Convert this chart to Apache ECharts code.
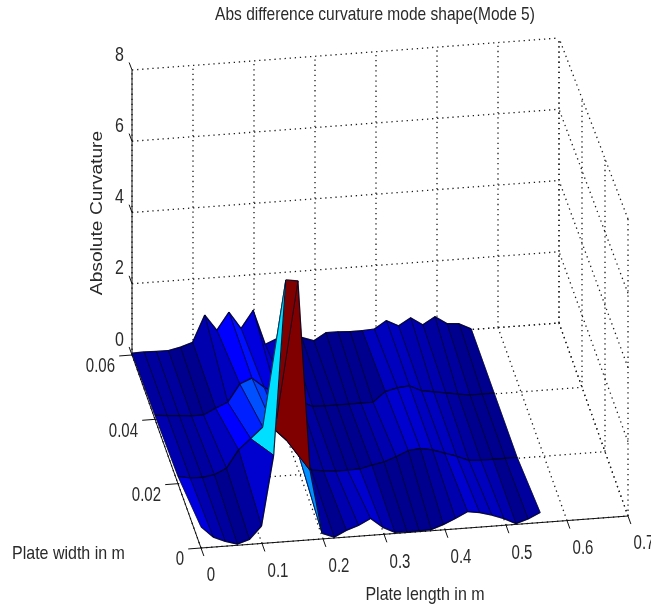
<!DOCTYPE html>
<html><head><meta charset="utf-8">
<style>html,body{margin:0;padding:0;background:#fff}#c{width:651px;height:607px}</style>
<script src="https://cdn.jsdelivr.net/npm/echarts@6/dist/echarts.min.js"></script>
</head><body><div id="c"></div>
<script>
// Plate length grid step and surface heights, one array per plate-width row
const xStep = 0.01986;
const widthRows = [0, 0.02, 0.04, 0.06];
const zRow000 = [0.57,0.27,0.13,0.03,0.13,0.47,2.35,7.05,7.00,1.87,0.15,0.02,0.18,0.29,0.45,0.19,0.03,0.02,0.02,0.03,0.14,0.28,0.44,0.39,0.30,0.18,0.02,0.12,0.27];
const zRow002 = [0.20,0.13,0.12,0.17,0.32,0.80,1.08,1.37,1.27,0.95,0.50,0.10,0.05,0.02,0.02,0.03,0.11,0.17,0.29,0.43,0.46,0.40,0.29,0.18,0.04,0.02,0.02,0.02,0.02];
const zRow004 = [0.11,0.08,0.05,0.02,0.02,0.18,0.32,0.80,0.94,0.66,0.50,0.30,0.20,0.03,0.02,0.02,0.02,0.02,0.02,0.29,0.37,0.40,0.24,0.18,0.13,0.07,0.02,0.02,0.02];
const zRow006 = [0.05,0.06,0.05,0.05,0.12,0.23,0.97,0.52,1.00,0.52,1.00,0.02,0.16,0.20,0.14,0.02,0.22,0.22,0.20,0.20,0.22,0.43,0.26,0.46,0.24,0.44,0.22,0.19,0.02];
const xTicks = [0,0.1,0.2,0.3,0.4,0.5,0.6,0.7];
const yTicks = [0,0.02,0.04,0.06];
const zTicks = [0,2,4,6,8];
const xTickLabels = ['0','0.1','0.2','0.3','0.4','0.5','0.6','0.7'];
const yTickLabels = ['0','0.02','0.04','0.06'];
const zTickLabels = ['0','2','4','6','8'];
const titleText = 'Abs difference curvature mode shape(Mode 5)';
const xName = 'Plate length in m', yName = 'Plate width in m', zName = 'Absolute Curvature';

const zGrid = [zRow000, zRow002, zRow004, zRow006];
const xMax = 0.7, yMax = 0.06, zMax = 8;
const zPeak = Math.max(...zGrid.flat());

// view of the MATLAB box; heights grow slightly toward the viewer
function proj(x, y, z) {
  return [201 + x / xMax * 427 - y / yMax * 69,
          548 - x / xMax * 32 - y / yMax * 193 - z / zMax * 285 * (1 + 0.042 * (1 - y / yMax))];
}
function jet(v0) {
  const v = v0 < 0.1 ? v0 * 0.85 + 0.012 : v0;
  const lvl = Math.min(63, Math.floor(v * 64));
  const t = (lvl + 1) / 64;
  const c = f => Math.round(255 * Math.max(0, Math.min(1, f)));
  return 'rgb(' + c(Math.min(4 * t - 1.5, 4.5 - 4 * t)) + ',' + c(Math.min(4 * t - 0.5, 3.5 - 4 * t)) + ',' + c(Math.min(4 * t + 0.5, 2.5 - 4 * t)) + ')';
}
// dotted wall / floor lines and solid axis lines, as 3-D end points
const dotted = [];
xTicks.forEach(x => { dotted.push([x,yMax,0,x,yMax,zMax]); dotted.push([x,0,0,x,yMax,0]); });
yTicks.forEach(y => { dotted.push([xMax,y,0,xMax,y,zMax]); dotted.push([0,y,0,xMax,y,0]); });
zTicks.forEach(z => { dotted.push([0,yMax,z,xMax,yMax,z]); dotted.push([xMax,0,z,xMax,yMax,z]); });
const tickY = 0.0025;
const solid = [[0,0,0,xMax,0,0],[0,0,0,0,yMax,0],[0,yMax,0,0,yMax,zMax]];
xTicks.forEach(x => solid.push([x,0,0,x,-tickY,0]));
yTicks.forEach(y => solid.push([0,y,0,-0.021,y,0]));
zTicks.forEach(z => solid.push([0,yMax,z,0,yMax+tickY,z]));

// faces, back row first, high x first
const faces = [];
for (let r = widthRows.length - 2; r >= 0; r--)
  for (let i = zRow000.length - 2; i >= 0; i--) faces.push([r, i]);

const segItem = style => (p, api) => {
  const a = api.coord(proj(api.value(0), api.value(1), api.value(2)));
  const b = api.coord(proj(api.value(3), api.value(4), api.value(5)));
  return {type:'line', shape:{x1:a[0],y1:a[1],x2:b[0],y2:b[1]}, style};
};
function faceItem(p, api) {
  const r = api.value(0), i = api.value(1);
  const pt = (rr, ii) => api.coord(proj(ii * xStep, widthRows[rr], zGrid[rr][ii]));
  const A = pt(r, i), B = pt(r, i + 1), C = pt(r + 1, i + 1), D = pt(r + 1, i);
  const col = jet(zGrid[r][i] / zPeak);
  return {type:'group', children:[
    {type:'polygon', shape:{points:[A,B,C,D]}, style:{fill:col, stroke:col, lineWidth:0.5}},
    {type:'polyline', shape:{points:[A,D]}, style:{fill:null, stroke:'rgba(0,0,40,0.7)', lineWidth:1}},
    {type:'polyline', shape:{points:[B,C]}, style:{fill:null, stroke:'rgba(0,0,40,0.7)', lineWidth:1}},
    {type:'polyline', shape:{points:[A,B]}, style:{fill:null, stroke:'rgba(0,0,30,0.85)', lineWidth:1.2}},
    {type:'polyline', shape:{points:[D,C]}, style:{fill:null, stroke:'rgba(0,0,30,0.85)', lineWidth:1.2}}
  ]};
}
function txt(text, x, y, o) {
  o = o || {};
  return {type:'text', x, y, scaleX:o.sx||1, scaleY:o.sy||1.2, rotation:o.rot||0, silent:true, z:100,
    style:{text, x:0, y:0, fill:'#2a2a2a', font:(o.size||16)+'px "Liberation Sans"', textAlign:o.align||'center', textVerticalAlign:'middle'}};
}
const labels = [];
xTickLabels.forEach((t,k) => { const b = proj(xTicks[k],0,0); labels.push(txt(t, b[0] + (k ? 16 : 10), b[1] + 28, {size:15,sy:1.3})); });
yTickLabels.forEach((t,k) => { const b = proj(0,yTicks[k],0); labels.push(txt(t, b[0] - 17, b[1] + 12, {size:15,sy:1.3,align:'right'})); });
zTickLabels.forEach((t,k) => { const b = proj(0,yMax,zTicks[k]); labels.push(txt(t, b[0] - 8, b[1] - 15, {size:16,sy:1.3,align:'right'})); });
labels.push(txt(titleText, 375, 15, {sx:0.97}));
labels.push(txt(xName, 425, 595, {}));
labels.push(txt(yName, 12, 554, {align:'left'}));
labels.push(txt(zName, 98, 213, {rot:Math.PI/2, sx:1.2, sy:1}));

const chart = echarts.init(document.getElementById('c'), null, {renderer:'canvas'});
chart.setOption({
  animation:false, backgroundColor:'#fff',
  grid:{left:0,right:0,top:0,bottom:0},
  xAxis:{type:'value',min:0,max:651,show:false},
  yAxis:{type:'value',min:0,max:607,inverse:true,show:false},
  graphic:{elements:labels},
  series:[
    {type:'custom',coordinateSystem:'cartesian2d',clip:false,silent:true,z:1,data:dotted,
     renderItem:segItem({stroke:'#1a1a1a',lineWidth:1.3,lineDash:[1.3,3.8]})},
    {type:'custom',coordinateSystem:'cartesian2d',clip:false,silent:true,z:2,data:solid,
     renderItem:segItem({stroke:'#111',lineWidth:1})},
    {type:'custom',coordinateSystem:'cartesian2d',clip:false,silent:true,z:3,data:faces,renderItem:faceItem}
  ]
});
</script></body></html>
